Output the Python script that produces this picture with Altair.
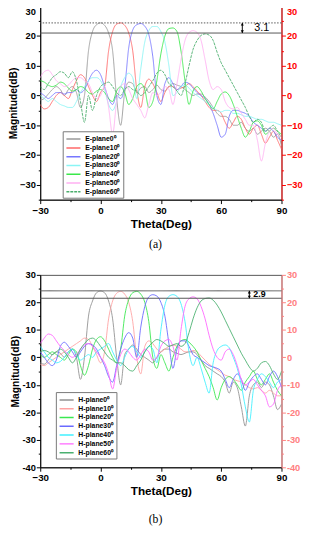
import altair as alt
import pandas as pd

# ---------------- data ----------------
theta = list(range(-30, 91, 2))

e_names = ["E-plane0⁰", "E-plane10⁰", "E-plane20⁰", "E-plane30⁰",
           "E-plane40⁰", "E-plane50⁰", "E-plane60⁰"]
e_colors = ["#9a9a9a", "#ff6a6a", "#7777ff", "#8af5f5", "#3ae84a", "#ffb0f2", "#4aae6c"]

E0 = [-1.5, -1, 0.5, 2, 3, 2, 0, 2, 3, 1,
      -4, 0, 15, 21.5, 23.8, 24.4, 23.6, 21, 15, -1,
      -10, 1, 4.5, 4, 1, 2.5, 3, 1, 2, 3.5,
      2, 1.5, 3, 4, 3.5, 3, 2, 1, 0, 0.5,
      0.5, -0.5, -2, -4, -6, -7, -7, -8, -10, -10,
      -9, -11, -12, -11, -13, -12, -11, -12, -14, -13,
      -17]
E10 = [-3, -4.5, -4, -2, 0, 1, 0, -1, 2, 5,
       7, 6, 3, 0, -2, 1, 3, 15, 21.5, 24,
       24.4, 23.6, 21, 15, 2, -4, 3, 5.5, 4, 1,
       -2, 1, 3, 3, 2, 2.5, 3, 4, 3, 1.5,
       0, -2, -4, -5, -5, -6, -9, -11, -9, -7,
       -8, -11, -13, -11, -10, -13, -16, -14, -12, -15,
       -18]
E20 = [1, 0, -1, 0, 1, 1, 0.5, 1, 1, 2,
       1, 2, 5, 7.5, 8.5, 7, 3, -1, -3, 0,
       -1, 3, 16, 22, 23.8, 24.2, 23.3, 20.5, 13, 0,
       -3, 4, 6, 4, 2, 3, 4.5, 4, 2.5, 1,
       0, -1, -3, -6, -10, -14, -13, -7, -5, -5,
       -5.5, -6, -7, -9, -10, -11, -12, -11, -12, -14,
       -15]
E30 = [0, -1, -2, -1, -2, -3, -3.5, -4, -4, -2,
       1, 3, 5, 6, 6, 5, 2, -3, -5, -2,
       3, 6, 7.5, 6, -1, 9, 18, 21.8, 23.2, 23.2,
       21.5, 18, 10, 0, 1, 3, 3.5, 2.5, 1, 0,
       -1, -2, -3, -4, -5, -5.5, -5, -5, -6, -6,
       -6.5, -7, -7, -7.5, -8, -8, -8.5, -9, -9, -9.5,
       -10]
E40 = [5, 4.5, 3.5, 3, 3.5, 4.5, 4, 2.5, 1.5, 2,
       3, 2.5, 1, 0.5, 1.5, 2, 1, -1, -2, 1.5,
       3, 1, -3, -1, 3, 4, 2, -4, -2, 5,
       14, 20, 22.5, 22.7, 21.5, 15, 5, -3, 1.5, 3,
       1.5, -1, -3, -4.5, -2, 0.5, 1.2, 0, -3, -7,
       -11, -14, -12, -9, -8.5, -10, -13, -12, -11, -12,
       -13]
E50 = [6, 8, 8.5, 7, 5, 4, 3, 3.5, 5, 6,
       6, 5, 4, 1, -1, 0, 3, -4, -13, -2,
       3, 4, 2, -1, -3, -5, -7.5, -3, 1, 0,
       1, 3, 2, -3, 4, 12, 18.5, 21.2, 21.8, 21.2,
       18.5, 12, 5, 2, 3, 2, -2, -4, -4.5, -4,
       -6, -8, -10, -10, -15, -22, -16, -12, -11, -13,
       -14]
E60 = [3, 2, 4, 6, 7, 8, 7.5, 6, 8, 5,
       -2, -9, 0, -5, 0, 3, 4, 4.5, 3, 1,
       0, 2, 3, 2, 1.5, 0, 1, 3, 5, 7.5,
       8.5, 7, 4, 3, 1.5, 0, 4, 10, 15.5, 18.5,
       20.2, 20.7, 20.3, 18.5, 14.5, 11, 8.5, 6, 3.5, 1,
       -1.5, -4, -7, -9, -8, -9, -12, -11, -10, -12,
       -14]
e_series = [E0, E10, E20, E30, E40, E50, E60]
e_dashes = [[1, 0]] * 6 + [[3, 1]]

h_names = ["H-plane0⁰", "H-plane10⁰", "H-plane20⁰", "H-plane30⁰",
           "H-plane40⁰", "H-plane50⁰", "H-plane60⁰"]
h_colors = ["#929292", "#ffa3a3", "#3ae850", "#6a6aff", "#40f0ff", "#ff66ff", "#4ab070"]

H0 = [-2, -2.5, -1, 1, 2, 1.5, 0, 2, 3, 0,
      -8, 0, 15, 20.5, 23.5, 24.1, 23.5, 20.5, 14, 0,
      -10, 1, 3, 4.5, 3, 1, 0, -1, -2, 0,
      2, 3, 3, 2, 1.5, 1, 1.5, 2, 2, 1,
      -1, -3, -4, -5, -6, -7, -9, -13, -9, -11,
      -18, -25, -14, -10, -9, -11, -9, -10, -14, -19,
      -17]
H10 = [-2.5, -3, -2, -1, 0, 1, 2, 3, 4, 5,
       6, 7, 6.5, 4, 1, -2, 2, 14, 20.5, 23.3,
       24, 23, 20, 13, 0, -6, 4, 6, 5, 3,
       2, 3, 4, 4.5, 4, 3, 2, 2, 2.5, 2,
       0.5, -1, -2.5, -3.5, -4.5, -5.5, -6.5, -7, -8, -8.5,
       -9, -10, -11, -11.5, -11, -12, -13, -12, -13, -14,
       -14]
H20 = [1, 0, 1, 2, 1, 0, -1, 1, 3, 2,
       -3, -6.5, -3, 3, 6.5, 7.5, 6, 3, 0, -2,
       3, 15, 21, 23.5, 24, 23, 20, 13, 0, -4,
       1, -2, -5, 0, 4, 6, 6.5, 5.5, 4, 2,
       -1, -4, -7, -11, -15.5, -11, -8, -7, -8, -10,
       -12, -9, -7, -5, -8, -10, -8, -6, -9, -12,
       -14]
H30 = [2, 0, -2, -3, -1, 4, 5.5, 4, 2, 0,
       2, 4, 5, 4.5, 3, 0, -3, -7, -9, -3,
       3, 7, 9, 7, 0, 11, 18.5, 22, 22.8, 22.3,
       20, 15, 5, -4, 3, 6, 6, 4, 1, 0,
       -1, -2, -3, -3.5, -4, -5, -8, -11, -8, -6,
       -8, -12, -9, -7, -6, -8, -10, -7, -5, -7,
       -11]
H40 = [4, 2, 0, -1, -2, -1.5, 0, 2, 3, 1,
       -1, 0, 1, 0, 2, 3, 4, 5, 2, -1,
       -3, 0, 3, 4, 2, 0, 2, 4, 3, -2,
       10, 19, 22.2, 22.8, 22.2, 19.5, 13, 2, -3, 0,
       -4, -9, -13, -2, 2.5, 4, 4.5, 3.5, 0, -4,
       -10, -18, -23.5, -12, -8, -6, -7, -9, -11, -9,
       -8]
H50 = [5, 7, 8.5, 8, 6, 4, 2.5, 1, 0, 1,
       3, 4.5, 5, 4, 2, 0, -2, -6, -11.5, -4,
       1, 3, 2, 0, -1, 1, 3, 2, -1, 0,
       4, 6, 6.5, 4, -1, 10, 18.5, 21.3, 22, 21.3,
       18.5, 14, 8, 3, 0, -1, 2, 3, 1, -3,
       -8, -10, -9, -8, -10, -12, -14, -18, -17, -12,
       -10]
H60 = [2, 2.5, 2, 1, 2, 3, 2, 0, -2, 0,
       3, 5, 6.5, 7, 6, 4, 2, 0, -1, -2,
       -2, -3, -4.5, -5, -3, -1, 2, 4, 5.5, 6.5,
       6, 5, 4, 4.5, 5, 4, 5, 9, 14, 18,
       20.5, 21.4, 21.6, 20.8, 19, 16.5, 13.5, 10.5, 7.5, 4.5,
       1.5, -1, -3.5, -5, -4, -2, -1.5, -3, -6, -8,
       -5]
h_series = [H0, H10, H20, H30, H40, H50, H60]

e_ref = {"top": 24.4, "low": 21.0, "gap": "3.1", "arrow": 70.5, "text": 76.5}
h_ref = {"top": 24.2, "low": 21.5, "gap": "2.9", "arrow": 74.0, "text": 76.0}

FONT = "Liberation Sans"


def make_panel(names, series, colors, dashes, ymin, ref, top_dotted, right_color,
               leg_x, leg_y, caption, cap_offset, height, hyphen, flush, gap_size, gap_weight):
    rows = [{"theta": t, "db": v, "series": n}
            for n, s in zip(names, series) for t, v in zip(theta, s)]
    df = pd.DataFrame(rows)

    xscale = alt.Scale(domain=[-30, 90], nice=False, zero=False)
    yscale = alt.Scale(domain=[ymin, 30], nice=False, zero=False)

    xaxis = alt.Axis(values=list(range(-30, 91, 15)),
                     labelExpr="datum.value % 30 === 0 ? datum.label : ''",
                     title="Theta(Deg)", labelFlush=False, labelFontSize=10,
                     titleFontSize=12, titlePadding=3, labelPadding=2,
                     tickSize={"condition": {"test": "datum.value % 30 === 0", "value": 4}, "value": 2})
    lab = "'' + datum.value" if hyphen else "datum.label"
    yvals = list(range(ymin, 31, 5))
    ycommon = dict(values=yvals,
                   labelExpr="datum.value % 10 === 0 ? " + lab + " : ''",
                   labelFlush=flush, labelFontSize=9.5, labelPadding=1,
                   tickSize={"condition": {"test": "datum.value % 10 === 0", "value": 4}, "value": 2})
    yaxis = alt.Axis(title="Magnitude(dB)", titleFontSize=10.5, titlePadding=1, **ycommon)
    raxis = alt.Axis(title=None, orient="right", domainColor=right_color,
                     tickColor=right_color, labelColor=right_color, **ycommon)

    x_enc = alt.X("theta:Q", scale=xscale, axis=xaxis)

    legend = alt.Legend(orient="none", legendX=leg_x, legendY=leg_y, title=None,
                        fillColor="white", strokeColor="#777777", padding=3,
                        labelFont=FONT, labelFontSize=7, labelFontWeight="bold",
                        symbolType="M-1.8,0L1.8,0", symbolSize=64, symbolStrokeWidth=1.5,
                        symbolDash=[1, 0],
                        symbolOffset=3, labelOffset=7, rowPadding=1)
    enc = dict(x=x_enc,
               y=alt.Y("db:Q", scale=yscale, axis=yaxis),
               color=alt.Color("series:N", scale=alt.Scale(domain=names, range=colors),
                               legend=legend))
    if dashes is not None:
        enc["strokeDash"] = alt.StrokeDash("series:N",
                                           scale=alt.Scale(domain=names, range=dashes),
                                           legend=None)
    lines = alt.Chart(df).mark_line(strokeWidth=0.9, interpolate="monotone",
                                    clip=True).encode(**enc)

    top_df = pd.DataFrame({"y": [ref["top"]]})
    low_df = pd.DataFrame({"y": [ref["low"]]})
    y_rule = alt.Y("y:Q", scale=yscale, axis=yaxis)
    top_rule = alt.Chart(top_df).mark_rule(
        color="#555555", strokeWidth=1,
        strokeDash=[1.5, 1.5] if top_dotted else [1, 0]).encode(y=y_rule)
    low_rule = alt.Chart(low_df).mark_rule(color="#555555", strokeWidth=1).encode(y=y_rule)

    arr_df = pd.DataFrame({"theta": [ref["arrow"]], "y1": [ref["top"]], "y2": [ref["low"]],
                           "up": [ref["top"] - 0.45], "dn": [ref["low"] + 0.45],
                           "tx": [ref["text"]], "mid": [(ref["top"] + ref["low"]) / 2],
                           "label": [ref["gap"]]})
    shaft = alt.Chart(arr_df).mark_rule(color="black", strokeWidth=1).encode(
        x=x_enc, y=alt.Y("y1:Q", scale=yscale, axis=yaxis), y2="y2:Q")
    head_up = alt.Chart(arr_df).mark_point(shape="triangle-up", filled=True, size=10,
                                           color="black", opacity=1).encode(
        x=x_enc, y=alt.Y("up:Q", scale=yscale, axis=yaxis))
    head_dn = alt.Chart(arr_df).mark_point(shape="triangle-down", filled=True, size=10,
                                           color="black", opacity=1).encode(
        x=x_enc, y=alt.Y("dn:Q", scale=yscale, axis=yaxis))
    gap_txt = alt.Chart(arr_df).mark_text(align="left", baseline="middle", font=FONT,
                                          fontSize=gap_size, fontWeight=gap_weight,
                                          color="black").encode(
        x=alt.X("tx:Q", scale=xscale, axis=xaxis),
        y=alt.Y("mid:Q", scale=yscale, axis=yaxis), text="label:N")

    main = alt.layer(lines, top_rule, low_rule, shaft, head_up, head_dn, gap_txt)
    right = alt.Chart(df).mark_line(opacity=0).encode(
        x=x_enc, y=alt.Y("db:Q", scale=yscale, axis=raxis), detail="series:N")

    return alt.layer(main, right).resolve_scale(y="independent").properties(
        width=247, height=height,
        title=alt.TitleParams(text=caption, orient="bottom", anchor="middle",
                              font="Liberation Serif", fontSize=12, fontWeight="normal",
                              color="black", offset=cap_offset, frame="bounds"))


top = make_panel(e_names, e_series, e_colors, e_dashes, -35, e_ref, True, "#ff0000",
                 23, 128, "(a)", 10, 198, False, True, 11, "normal")
bottom = make_panel(h_names, h_series, h_colors, None, -40, h_ref, False, "#ff8080",
                    16, 120, "(b)", 18, 197, True, False, 9, "bold")

chart = alt.vconcat(top, bottom, spacing=19).resolve_scale(
    color="independent", strokeDash="independent").resolve_legend(
    color="independent").properties(
    padding={"left": 0, "top": -9, "right": 0, "bottom": 0}
).configure_view(stroke="#555555", strokeWidth=1).configure_axis(
    labelFont=FONT, titleFont=FONT, labelFontWeight="bold", titleFontWeight="bold",
    domainColor="black", tickColor="black", labelColor="black", titleColor="black",
    grid=False)

chart.save("out.html", embed_options={"renderer": "svg", "actions": False})
